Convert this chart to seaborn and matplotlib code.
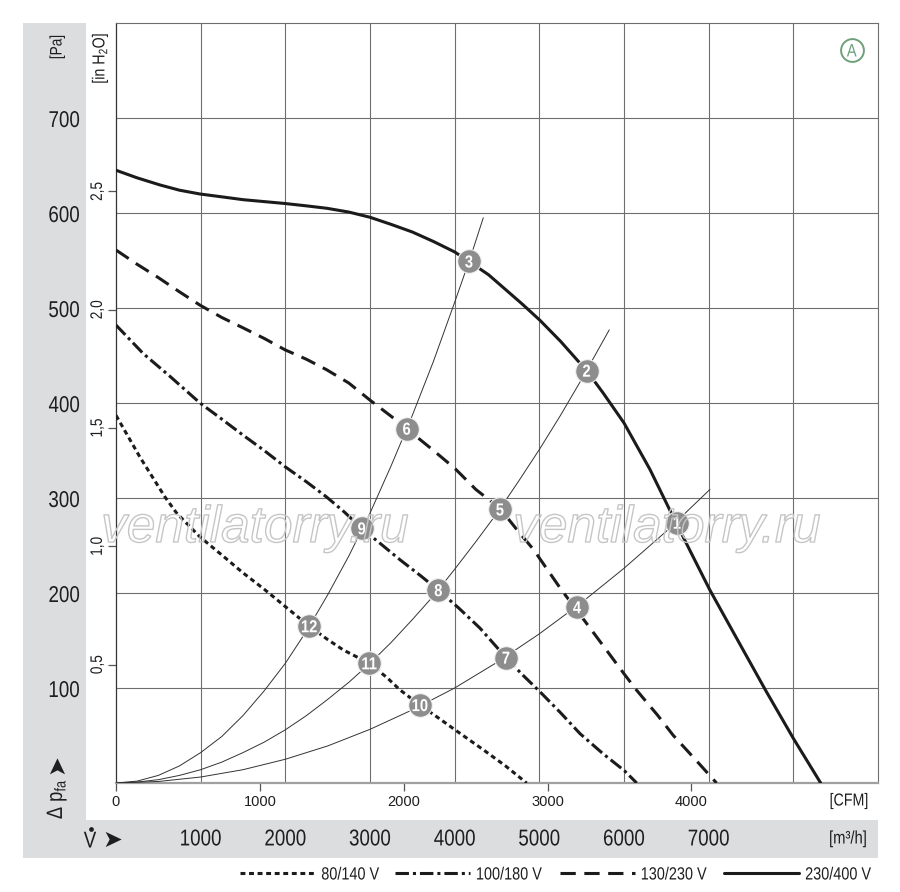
import matplotlib
matplotlib.use('Agg')
import matplotlib.pyplot as plt
import matplotlib.patheffects as pe
from matplotlib.patches import Rectangle
from matplotlib.lines import Line2D
from matplotlib.transforms import Affine2D
import seaborn as sns

# fan curves: flow [m3/h], pressure [Pa]
flow_80 = [0, 283, 579, 717, 992, 1250, 1503, 1750, 1996, 2283, 2500, 2685, 2992, 3200, 3354, 3590, 3800, 4004, 4338, 4600, 4850]
pa_80 = [387, 343, 301, 284, 259, 240, 221, 204, 186, 165, 151, 140, 126, 111, 98, 82, 69, 56, 35, 18, 0]

flow_100 = [0, 322, 638, 992, 1250, 1503, 1750, 1996, 2250, 2488, 2700, 2902, 3150, 3354, 3600, 3807, 4050, 4299, 4606, 4800, 5008, 5250, 5480, 5750, 6004, 6150]
pa_100 = [482, 452, 428, 400, 383, 366, 350, 333, 317, 301, 285, 268, 250, 235, 218, 203, 184, 163, 132, 114, 96, 74, 52, 31, 13, 0]

flow_130 = [0, 250, 500, 750, 992, 1250, 1503, 1750, 1996, 2250, 2488, 2750, 3000, 3250, 3433, 3750, 4004, 4250, 4535, 4750, 4929, 5100, 5263, 5441, 5750, 6000, 6146, 6400, 6583, 6850, 7093]
pa_130 = [561, 546, 532, 517, 503, 490, 479, 468, 456, 446, 435, 421, 403, 386, 373, 350, 331, 309, 289, 265, 246, 224, 203, 182, 145, 115, 98, 71, 50, 24, 0]

flow_230 = [0, 250, 520, 750, 992, 1250, 1503, 1750, 1996, 2250, 2488, 2750, 3000, 3250, 3500, 3750, 4000, 4169, 4400, 4594, 4800, 5008, 5250, 5559, 5750, 6000, 6307, 6614, 6800, 7015, 7370, 7676, 8000, 8323]
pa_230 = [645, 637, 629.5, 624, 620, 617, 614, 612, 610, 607.5, 605, 601, 595.5, 588, 580, 570, 559, 549, 535, 520, 504, 487, 465, 434, 411, 379, 330, 274, 241, 203, 146, 97, 47, 0]

# system curves (thin lines through the operating points)
sys_flow_a = [0, 250, 500, 750, 1000, 1250, 1500, 1750, 2000, 2250, 2500, 2750, 3000, 3250, 3500, 3750, 4000, 4200, 4338]
sys_pa_a = [0, 2, 8, 18, 32, 49, 71, 97, 126, 160, 198, 239, 284, 334, 387, 444, 506, 557, 595]
sys_flow_b = [0, 250, 500, 750, 1000, 1250, 1500, 1750, 2000, 2250, 2500, 2750, 3000, 3250, 3500, 3750, 4000, 4250, 4500, 4750, 5000, 5250, 5500, 5826]
sys_pa_b = [0, 1, 3.5, 8, 14, 22, 32, 43, 56, 71, 88, 106, 126, 148, 172, 197, 225, 254, 284, 317, 351, 387, 425, 477]
sys_flow_c = [0, 500, 1000, 1500, 2000, 2500, 3000, 3500, 4000, 4500, 5000, 5500, 6000, 6500, 7015]
sys_pa_c = [0, 1.6, 6.3, 14, 25, 39, 56.5, 77, 100, 127, 157, 190, 226, 265, 309]

# operating points 1..12
op_flow = [6626, 5559, 4169, 5445, 4535, 3433, 4606, 3807, 2902, 3590, 2992, 2283]
op_pa = [274, 434, 549, 185, 288, 373, 132, 203, 268, 82, 126, 165]
op_label = ['1', '2', '3', '4', '5', '6', '7', '8', '9', '10', '11', '12']

flow_ticks = [1000, 2000, 3000, 4000, 5000, 6000, 7000, 8000]
flow_labels = ['1000', '2000', '3000', '4000', '5000', '6000', '7000', '']
pa_ticks = [100, 200, 300, 400, 500, 600, 700]
cfm_ticks = [0, 1000, 2000, 3000, 4000]
inh2o_ticks = [0.5, 1.0, 1.5, 2.0, 2.5]
inh2o_labels = ['0,5', '1,0', '1,5', '2,0', '2,5']
legend_labels = ['80/140 V', '100/180 V', '130/230 V', '230/400 V']


class Narrow(pe.AbstractPathEffect):
    """squeeze text sideways so it looks like a condensed face"""

    def __init__(self, k=0.82, anchor='center', vertical=False, outline=None, lw=1.0):
        super().__init__()
        self.k, self.anchor, self.vertical = k, anchor, vertical
        self.outline, self.lw = outline, lw

    def draw_path(self, renderer, gc, tpath, affine, rgbFace=None):
        if len(tpath.vertices) == 0:
            return
        pts = affine.transform(tpath.vertices)
        i = 1 if self.vertical else 0
        lo, hi = pts[:, i].min(), pts[:, i].max()
        c = {'left': lo, 'bottom': lo, 'right': hi, 'top': hi}.get(self.anchor, (lo + hi) / 2)
        if self.vertical:
            sq = Affine2D().translate(0, -c).scale(1, self.k).translate(0, c)
        else:
            sq = Affine2D().translate(-c, 0).scale(self.k, 1).translate(c, 0)
        if self.outline:
            gc0 = renderer.new_gc()
            gc0.copy_properties(gc)
            gc0.set_linewidth(self.lw)
            gc0.set_foreground(self.outline)
            renderer.draw_path(gc0, tpath, affine + sq, None)
            gc0.restore()
        else:
            renderer.draw_path(gc, tpath, affine + sq, rgbFace)


sns.set_style('white')
plt.rcParams['font.family'] = ['Liberation Sans', 'DejaVu Sans']
plt.rcParams['mathtext.fontset'] = 'custom'
plt.rcParams['mathtext.rm'] = 'Liberation Sans'
plt.rcParams['mathtext.it'] = 'Liberation Sans:italic'

W, H = 900, 892
fig = plt.figure(figsize=(9, 8.92), dpi=100)


def fx(px):
    return px / W


def fy(py):
    return 1 - py / H


txt = '#1e1e1e'

# grey label bands
fig.add_artist(Rectangle((fx(23), fy(858)), fx(63), 835 / H, transform=fig.transFigure,
                         facecolor='#dcdddf', edgecolor='none', zorder=0))
fig.add_artist(Rectangle((fx(23), fy(858)), fx(855), 38 / H, transform=fig.transFigure,
                         facecolor='#dcdddf', edgecolor='none', zorder=0))

ax = fig.add_axes([fx(116), fy(783), 762 / W, 760 / H])
ax.set_xlim(0, 9000)
ax.set_ylim(0, 800)

ink = '#1b1b1b'
for fq, pq in [(sys_flow_a, sys_pa_a), (sys_flow_b, sys_pa_b), (sys_flow_c, sys_pa_c)]:
    sns.lineplot(x=fq, y=pq, ax=ax, color='#333333', lw=0.7, sort=False, estimator=None, zorder=3)

styles = [(0, (1.6, 1.2)), (0, (4.4, 1.3, 1.0, 1.3)), (0, (5.0, 2.8)), '-']
curves = [(flow_80, pa_80), (flow_100, pa_100), (flow_130, pa_130), (flow_230, pa_230)]
for (fq, pq), ls, lab in zip(curves, styles, legend_labels):
    sns.lineplot(x=fq, y=pq, ax=ax, color=ink, lw=2.2, linestyle=ls, sort=False,
                 estimator=None, label=lab, zorder=4)
handles, labels = ax.get_legend_handles_labels()
if ax.get_legend() is not None:
    ax.get_legend().remove()

sns.scatterplot(x=op_flow, y=op_pa, ax=ax, s=290, color='#8d8d8d', edgecolor='#f2f2f2',
                linewidth=0.8, zorder=5, legend=False)
for q, p, t in zip(op_flow, op_pa, op_label):
    ax.text(q, p, t, ha='center', va='center_baseline', color='white', fontsize=12.5,
            fontweight='bold', zorder=6, path_effects=[Narrow(0.85)])

# grid and frame
ax.set_xticks(flow_ticks)
ax.set_xticklabels(flow_labels, fontsize=16.5, color=txt)
ax.set_yticks(pa_ticks)
ax.set_yticklabels([str(v) for v in pa_ticks], fontsize=16.5, color=txt)
plt.setp(ax.get_xticklabels(), path_effects=[Narrow()])
plt.setp(ax.get_yticklabels(), path_effects=[Narrow(anchor='right')])
ax.tick_params(axis='x', length=0, pad=32)
ax.tick_params(axis='y', length=0, pad=26)
ax.grid(True, color='#6e6e6e', lw=0.8)
ax.set_axisbelow(True)
for side in ['top', 'right']:
    ax.spines[side].set_color('#6e6e6e')
    ax.spines[side].set_linewidth(0.8)
ax.spines['left'].set_color('#333333')
ax.spines['left'].set_linewidth(0.9)
ax.spines['bottom'].set_color('#a0a0a0')
ax.spines['bottom'].set_linewidth(1.6)

# CFM scale under the plot
sx = ax.secondary_xaxis('bottom', functions=(lambda q: q / 1.699, lambda c: c * 1.699))
sx.set_xticks(cfm_ticks)
sx.set_xticklabels([str(v) for v in cfm_ticks], fontsize=10.5)
sx.tick_params(length=6, width=0.9, color='#555555', pad=3, labelcolor=txt)
sx.spines['bottom'].set_visible(False)

# in H2O scale at the left spine
sy = ax.secondary_yaxis('left', functions=(lambda p: p / 249.09, lambda w: w * 249.09))
sy.set_yticks(inh2o_ticks)
sy.set_yticklabels(inh2o_labels, fontsize=12, rotation=90, va='center')
plt.setp(sy.get_yticklabels(), path_effects=[Narrow(vertical=True)])
sy.tick_params(length=6, width=0.9, color='#555555', pad=2, labelcolor=txt)
sy.spines['left'].set_visible(False)

# unit and axis texts
vnarrow = [Narrow(vertical=True)]
fig.text(fx(57), fy(47), '[Pa]', rotation=90, ha='center', va='center', fontsize=12, color=txt,
         path_effects=vnarrow)
fig.text(fx(100), fy(58), r'[in H$_\mathregular{2}$O]', rotation=90, ha='center', va='center',
         fontsize=12.5, color=txt, path_effects=vnarrow)
fig.text(fx(57), fy(799), r'Δ p$_\mathregular{fa}$', rotation=90, ha='center', va='center',
         fontsize=16, color=txt, path_effects=vnarrow)
fig.text(fx(56), fy(764), '➤', rotation=90, ha='center', va='center', fontsize=17, color=txt,
         family=['DejaVu Sans'])
fig.text(fx(90), fy(841), 'V', ha='center', va='center', fontsize=16.5, color=txt,
         path_effects=[Narrow()])
fig.add_artist(Line2D([fx(90.5)], [fy(828.5)], marker='o', ms=2.4, color=txt, lw=0,
                      transform=fig.transFigure))
fig.text(fx(112), fy(840), '➤', ha='center', va='center', fontsize=17, color=txt,
         family=['DejaVu Sans'])
fig.text(fx(848), fy(839), '[m³/h]', ha='center', va='center', fontsize=13, color=txt,
         path_effects=[Narrow()])
fig.text(fx(849), fy(801), '[CFM]', ha='center', va='center', fontsize=12.5, color=txt,
         path_effects=[Narrow()])

# watermark
for cx in [255, 667]:
    fig.text(fx(cx), fy(542), 'ventilatorry.ru', ha='center', va='baseline', fontsize=37,
             style='italic', color='white', zorder=2,
             path_effects=[Narrow(k=1.0, outline='#c6c6c6', lw=1.0)])

# curve set marker
ax.scatter([0.9655], [0.9645], transform=ax.transAxes, s=270, facecolor='white',
           edgecolor='#6d9f7a', linewidths=1.4, zorder=6)
ax.text(0.9655, 0.9645, 'A', transform=ax.transAxes, ha='center', va='center_baseline',
        fontsize=13, color='#6d9f7a', zorder=7, path_effects=[Narrow()])

leg = fig.legend(handles, labels, loc='center', bbox_to_anchor=(fx(563), fy(875)), ncol=4,
                 frameon=False, fontsize=12.7, handlelength=4.26, handletextpad=0.34,
                 columnspacing=0.15, labelcolor=txt)
plt.setp(leg.get_texts(), path_effects=[Narrow(anchor='left')])

fig.savefig('out.png', dpi=100, facecolor='white')
